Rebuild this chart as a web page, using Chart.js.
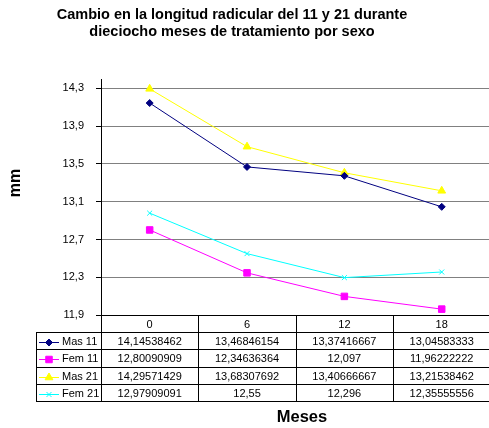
<!DOCTYPE html>
<html>
<head>
<meta charset="utf-8">
<script src="https://cdn.jsdelivr.net/npm/chart.js"></script>
<style>
  html, body { margin: 0; padding: 0; background: #fff; overflow: hidden; }
  #wrap { width: 496px; height: 428px; }
</style>
</head>
<body>
<div id="wrap"><canvas id="rootChart" width="496" height="428"></canvas></div>
<script>
const meses = ['0', '6', '12', '18'];
const mas11 = [14.14538462, 13.46846154, 13.37416667, 13.04583333];
const fem11 = [12.80090909, 12.34636364, 12.097, 11.96222222];
const mas21 = [14.29571429, 13.68307692, 13.40666667, 13.21538462];
const fem21 = [12.97909091, 12.55, 12.296, 12.35555556];
const yTicks = [11.9, 12.3, 12.7, 13.1, 13.5, 13.9, 14.3];

const titleLines = ['Cambio en la longitud radicular del 11 y 21 durante',
                    'dieciocho meses de tratamiento por sexo'];
const font_family = '"Liberation Sans", Arial, sans-serif';

function comma(v) {
  return String(v).replace('.', ',');
}

function make_dataset(label, data, color, style, radius) {
  return {
    label: label,
    data: data,
    borderColor: color,
    backgroundColor: color,
    borderWidth: 1,
    pointStyle: style,
    pointRadius: radius,
    pointBorderWidth: 1,
    pointBorderColor: color,
    pointBackgroundColor: color,
    tension: 0
  };
}

// titles, axis names and the data table under the plot
const textAndTable = {
  id: 'textAndTable',
  afterDraw(chart) {
    const ctx = chart.ctx;
    const xs = chart.scales.x;
    const area = chart.chartArea;
    ctx.save();
    ctx.fillStyle = '#000';
    ctx.textBaseline = 'middle';
    ctx.textAlign = 'center';

    ctx.font = 'bold 14.5px ' + font_family;
    ctx.fillText(titleLines[0], 232, 15);
    ctx.fillText(titleLines[1], 232, 32);

    ctx.save();
    ctx.font = 'bold 16px ' + font_family;
    ctx.translate(16, 183);
    ctx.rotate(-Math.PI / 2);
    ctx.fillText('mm', 0, 0);
    ctx.restore();

    ctx.font = 'bold 16.5px ' + font_family;
    ctx.fillText('Meses', 302, 417);

    // table grid
    const top = Math.round(area.bottom);
    const rowH = 17.2;
    const legLeft = 36;
    const catW = (area.right - area.left) / meses.length;
    const rows = [top];
    for (let i = 1; i <= 5; i++) rows.push(Math.round(top + i * rowH));
    const bottom = rows[5];
    const cols = [area.left];
    for (let i = 0; i < meses.length; i++) {
      cols.push(xs.getPixelForValue(i) + catW / 2);
    }

    ctx.strokeStyle = '#000';
    ctx.lineWidth = 1;
    ctx.beginPath();
    ctx.moveTo(area.left, top + 0.5);
    ctx.lineTo(area.right + 2, top + 0.5);
    for (let r = 1; r < rows.length; r++) {
      ctx.moveTo(legLeft, rows[r] + 0.5);
      ctx.lineTo(area.right + 2, rows[r] + 0.5);
    }
    cols.forEach(function (c) {
      const x = Math.round(c) + 0.5;
      ctx.moveTo(x, top);
      ctx.lineTo(x, bottom + 1);
    });
    ctx.moveTo(legLeft + 0.5, rows[1]);
    ctx.lineTo(legLeft + 0.5, bottom + 1);
    ctx.stroke();

    ctx.font = '11px ' + font_family;
    meses.forEach(function (m, i) {
      ctx.fillText(m, xs.getPixelForValue(i), (rows[0] + rows[1]) / 2 + 1);
    });

    chart.data.datasets.forEach(function (ds, d) {
      const yMid = (rows[d + 1] + rows[d + 2]) / 2 + 1;
      // legend key
      ctx.strokeStyle = ds.borderColor;
      ctx.beginPath();
      ctx.moveTo(39, Math.round(yMid) + 0.5);
      ctx.lineTo(59, Math.round(yMid) + 0.5);
      ctx.stroke();
      ctx.fillStyle = ds.backgroundColor;
      Chart.helpers.drawPoint(ctx, {
        pointStyle: ds.pointStyle,
        radius: ds.pointRadius,
        borderWidth: 1,
        rotation: 0
      }, 49, Math.round(yMid) + 0.5);
      ctx.fillStyle = '#000';
      ctx.textAlign = 'left';
      ctx.fillText(ds.label, 62, yMid);
      ctx.textAlign = 'center';
      ds.data.forEach(function (v, i) {
        ctx.fillText(comma(v), xs.getPixelForValue(i), yMid);
      });
    });
    ctx.restore();
  }
};

const ctx = document.getElementById('rootChart').getContext('2d');
const rootChart = new Chart(ctx, {
  type: 'line',
  data: {
    labels: meses,
    datasets: [
      make_dataset('Mas 11', mas11, '#000080', 'rectRot', 3.5),
      make_dataset('Fem 11', fem11, '#FF00FF', 'rect', 4.6),
      make_dataset('Mas 21', mas21, '#FFFF00', 'triangle', 4.5),
      make_dataset('Fem 21', fem21, '#00FFFF', 'crossRot', 3.5)
    ]
  },
  options: {
    responsive: false,
    animation: false,
    events: [],
    layout: {
      padding: { top: 79, bottom: 113, left: 0, right: 0 }
    },
    plugins: {
      legend: { display: false },
      title: { display: false },
      tooltip: { enabled: false }
    },
    scales: {
      x: {
        display: false,
        offset: true
      },
      y: {
        min: 11.9,
        max: 14.4,
        afterFit: function (scale) { scale.width = 101; },
        afterBuildTicks: function (scale) {
          scale.ticks = yTicks.map(function (v) { return { value: v }; });
        },
        ticks: {
          color: '#000',
          padding: 12,
          font: { family: font_family, size: 11 },
          callback: function (v) { return comma(v); }
        },
        grid: {
          color: '#808080',
          lineWidth: 1,
          tickColor: '#000',
          tickLength: 5
        },
        border: { display: true, color: '#000', width: 1 }
      }
    }
  },
  plugins: [textAndTable]
});
</script>
</body>
</html>
